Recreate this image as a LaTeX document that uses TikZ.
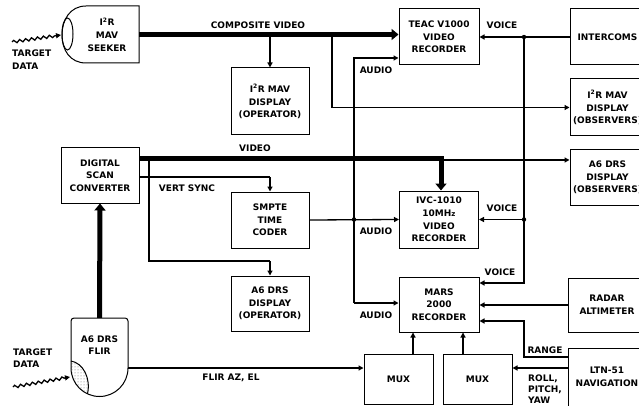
\documentclass[tikz,border=0pt]{standalone}
\usepackage{fontspec}
\setmainfont{DejaVu Sans}
\usetikzlibrary{arrows.meta,decorations.pathmorphing,patterns}
\begin{document}
\begin{tikzpicture}[x=1pt,y=-1pt,
  every node/.style={font=\bfseries\fontsize{9}{12.6}\selectfont, inner sep=0pt, align=center},
  box/.style={draw, line width=1pt},
  ln/.style={line width=1.3pt},
  thk/.style={line width=5pt},
  ar/.style={-{Triangle[length=5pt,width=5pt]}},
  tar/.style={-{Triangle[length=7pt,width=11pt]}},
  wavy/.style={ln, decorate, decoration={snake, amplitude=1.4pt, segment length=6pt, post length=5pt}}
]
\fill[white] (0,0) rectangle (639,406);
\useasboundingbox (0,0) rectangle (639,406);
\clip (0,0) rectangle (639,406);

% ---- seeker
\draw[line width=1pt] (139,6) -- (86,6) .. controls (70,6) and (62,20) .. (62,35)
  .. controls (62,50) and (70,63) .. (86,63) -- (139,63) -- cycle;
\draw[line width=1pt] (67.5,34) ellipse[x radius=5.5pt, y radius=16pt];
\node[minimum width=64pt, minimum height=57pt] (seeker) at (107,34.5) {I\textsuperscript{2}R\\MAV\\SEEKER};

% ---- flir
\fill[pattern=dots, pattern color=black!60] (71,361) .. controls (83,363) and (91,378) .. (87.5,393.8)
  arc[start angle=245, end angle=180, radius=28.5pt] -- cycle;
\draw[line width=1pt] (71,361) .. controls (83,363) and (91,378) .. (87.5,393.8);
\draw[line width=1pt, rounded corners=3pt] (71,368) -- (71,318) -- (128,318) -- (128,368);
\draw[line width=1pt] (128,368) arc[start angle=0, end angle=-180, radius=28.5pt];
\node[minimum width=57pt, minimum height=54pt] (flir) at (99.5,345) {A6 DRS\\FLIR};

% ---- boxes
\node[box, minimum width=80pt, minimum height=56pt] (teac) at (439,37) {TEAC V1000\\VIDEO\\RECORDER};
\node[box, minimum width=75pt, minimum height=56pt] (intercom) at (607.5,37) {INTERCOMS};
\node[box, minimum width=75pt, minimum height=57pt] (mavobs) at (607.5,107.5) {I\textsuperscript{2}R MAV\\DISPLAY\\(OBSERVERS)};
\node[box, minimum width=78pt, minimum height=67pt] (mavop) at (270,101.5) {I\textsuperscript{2}R MAV\\DISPLAY\\(OPERATOR)};
\node[box, minimum width=78pt, minimum height=55pt] (dsc) at (100,175.5) {DIGITAL\\SCAN\\CONVERTER};
\node[box, minimum width=78pt, minimum height=56pt] (smpte) at (270,220) {SMPTE\\TIME\\CODER};
\node[box, minimum width=79pt, minimum height=57pt] (ivc) at (439,219.5) {IVC-1010\\10MH{\fontsize{7}{8}\selectfont z}\\VIDEO\\RECORDER};
\node[box, minimum width=75pt, minimum height=55pt] (drsobs) at (607.5,177.5) {A6 DRS\\DISPLAY\\(OBSERVERS)};
\node[box, minimum width=78pt, minimum height=55pt] (drsop) at (270,303.5) {A6 DRS\\DISPLAY\\(OPERATOR)};
\node[box, minimum width=80pt, minimum height=55pt] (mars) at (439,304.5) {MARS\\2000\\RECORDER};
\node[box, minimum width=78pt, minimum height=54pt] (radar) at (607,305) {RADAR\\ALTIMETER};
\node[box, minimum width=78pt, minimum height=58pt] (ltn) at (607,377) {LTN-51\\NAVIGATION};
\node[box, minimum width=69pt, minimum height=50pt] (mux1) at (398.5,379) {MUX};
\node[box, minimum width=69pt, minimum height=50pt] (mux2) at (477.5,379) {MUX};

% ---- labels
\node (lcomp) at (258,25) {COMPOSITE VIDEO};
\node (lvoice1) at (502,25) {VOICE};
\node (laudio1) at (376,70) {AUDIO};
\node (lvideo) at (255,148) {VIDEO};
\node (lvsync) at (187,188) {VERT SYNC};
\node (laudio2) at (376,231) {AUDIO};
\node (lvoice2) at (502,208) {VOICE};
\node (lvoice3) at (500,272) {VOICE};
\node (laudio3) at (376,315) {AUDIO};
\node (lrange) at (545,350) {RANGE};
\node[anchor=west, align=left, font=\bfseries\fontsize{9}{11}\selectfont] (lrpy) at (528,389) {ROLL,\\PITCH,\\YAW};
\node (lflir) at (231,378) {FLIR AZ, EL};
\node[anchor=west, align=left, font=\bfseries\fontsize{9}{13}\selectfont] (ltd1) at (12,60) {TARGET\\DATA};
\node[anchor=west, align=left, font=\bfseries\fontsize{9}{12}\selectfont] (ltd2) at (13,358) {TARGET\\DATA};

% ---- target data arrows
\coordinate (w1a) at (12,42);
\coordinate (w1b) at (61,35);
\coordinate (w2a) at (13,387);
\coordinate (w2b) at (70,377);
\draw[wavy, ar] (w1a) -- (w1b);
\draw[wavy, ar] (w2a) -- (w2b);

% ---- composite video
\draw[thk, tar] (seeker.east) -- (teac.west |- seeker.east);
\draw[ln, ar] (mavop.north |- seeker.east) -- (mavop.north);
\draw[ln, ar] (332,34.5) -- (332,107.5) -- (mavobs.west);

% ---- audio
\draw[ln, ar] (354,303) -- (354,58) -- (teac.west |- 0,58);
\draw[ln, ar] (354,303) -- (mars.west |- 0,303);
\draw[ln, ar] (smpte.east) -- (ivc.west);
\fill (354,219.5) circle[radius=2.2pt];

% ---- voice
\draw[ln, ar] (intercom.west) -- (teac.east);
\draw[ln, ar] (524,37) -- (524,283) -- (mars.east |- 0,283);
\draw[ln, ar] (524,219.5) -- (ivc.east);
\fill (524,37) circle[radius=2.2pt];
\fill (524,219.5) circle[radius=2.2pt];

% ---- video from DSC
\coordinate (vbend) at (441,159);
\draw[ln, ar] (441,160) -- (drsobs.west |- 0,160);
\draw[thk, tar, line join=miter] (dsc.east |- vbend) -- (vbend) -- (vbend |- ivc.north);
\draw[ln] (149,159) -- (149,261) -- (270,261);
\draw[ln, ar] (270,261) -- (drsop.north);
\draw[ln] (dsc.east |- 0,177) -- (270,177);
\draw[ln, ar] (270,177) -- (smpte.north);
\draw[thk, tar] (flir.north) -- (dsc.south);

% ---- MARS inputs
\draw[ln, ar] (radar.west) -- (mars.east |- radar.west);
\draw[ln, ar] (ltn.west |- 0,357) -- (524,357) -- (524,321) -- (mars.east |- 0,321);
\draw[ln, ar] (ltn.west |- 0,368) -- (mux2.east |- 0,368);
\draw[ln, ar] (flir.east |- 0,368) -- (mux1.west |- 0,368);
\draw[ln, ar] ([xshift=14.5pt]mux1.north) -- ([xshift=14.5pt]mux1.north |- mars.south);
\draw[ln, ar] ([xshift=-14.5pt]mux2.north) -- ([xshift=-14.5pt]mux2.north |- mars.south);
\end{tikzpicture}
\end{document}
